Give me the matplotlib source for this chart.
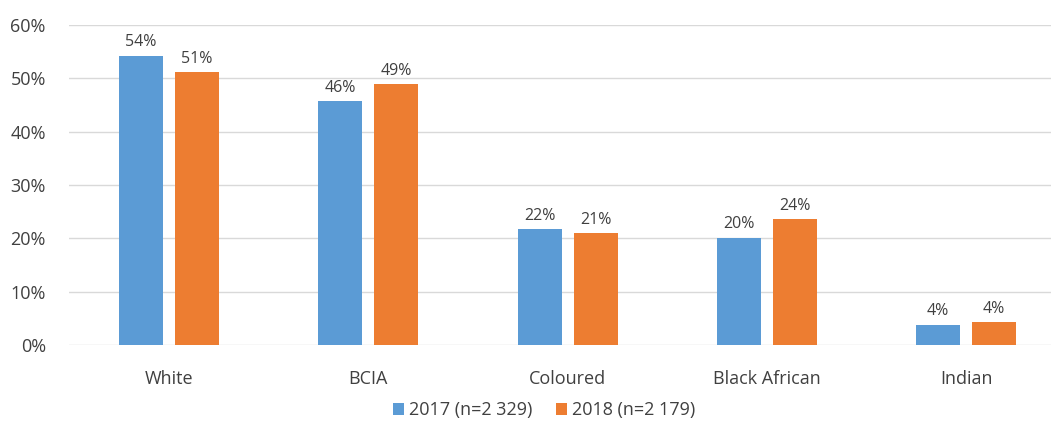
import matplotlib
matplotlib.use("Agg")
import matplotlib.pyplot as plt
import numpy as np
from matplotlib.ticker import PercentFormatter

plt.rcParams["font.family"] = ["Open Sans", "DejaVu Sans"]

categories = ["White", "BCIA", "Coloured", "Black African", "Indian"]
values_2017 = [54.2, 45.7, 21.7, 20.1, 3.8]
values_2018 = [51.1, 48.9, 21.0, 23.6, 4.3]
series_labels = ["2017 (n=2 329)", "2018 (n=2 179)"]

fig = plt.figure(figsize=(10.51, 4.22), dpi=100)
# plot area runs past the right edge, as in the cropped original
ax = fig.add_axes([0.066, 0.182, 0.948, 0.759])

x = np.arange(len(categories))
w = 0.221
gap = 0.06
b1 = ax.bar(x - (w + gap) / 2, values_2017, w, color="#5B9BD5", label=series_labels[0], zorder=3)
b2 = ax.bar(x + (w + gap) / 2, values_2018, w, color="#ED7D31", label=series_labels[1], zorder=3)

for bars in (b1, b2):
    for rect in bars:
        h = rect.get_height()
        ax.annotate(f"{h:.0f}%", (rect.get_x() + rect.get_width() / 2, h),
                    xytext=(0, 4), textcoords="offset points",
                    ha="center", va="bottom", fontsize=11.5, color="#404040")

ax.set_xlim(-0.5, len(categories) - 0.5)
ax.set_ylim(0, 60)
ax.set_yticks(range(0, 61, 10))
ax.yaxis.set_major_formatter(PercentFormatter(decimals=0))
ax.set_xticks(x)
ax.set_xticklabels(categories)
ax.tick_params(axis="both", length=0, labelsize=13, colors="#404040")
ax.tick_params(axis="x", pad=18)
ax.tick_params(axis="y", pad=17)
ax.grid(axis="y", color="#D9D9D9", linewidth=1, zorder=0)
for s in ax.spines.values():
    s.set_visible(False)

fig.legend(loc="center", bbox_to_anchor=(0.518, 0.028), ncol=2, frameon=False,
           fontsize=13, handlelength=0.6, handleheight=0.7, handletextpad=0.3,
           columnspacing=1.3, labelcolor="#404040")

fig.savefig("out.png", dpi=100)
